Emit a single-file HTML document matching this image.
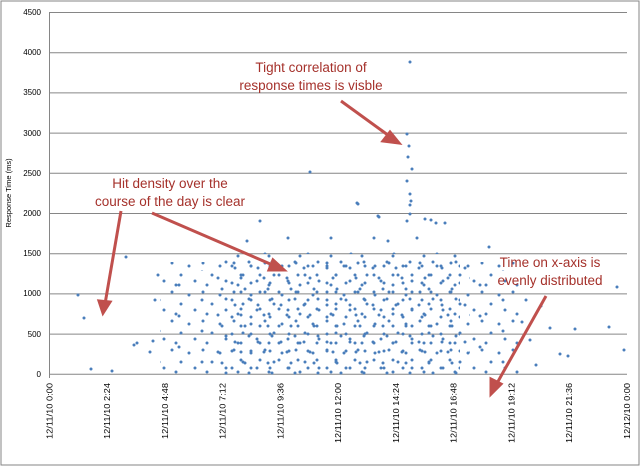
<!DOCTYPE html>
<html><head><meta charset="utf-8"><style>
html,body{margin:0;padding:0;background:#fff}
svg{display:block;font-family:"Liberation Sans",sans-serif}
</style></head><body>
<svg width="640" height="467" viewBox="0 0 640 467" xmlns="http://www.w3.org/2000/svg">
<defs>
<pattern id="p1" patternUnits="userSpaceOnUse" width="31" height="29">
<g fill="#4a7ebb"><circle cx="3" cy="5" r="1.5"/><circle cx="17" cy="2" r="1.5"/><circle cx="26" cy="14" r="1.5"/><circle cx="9" cy="20" r="1.5"/><circle cx="21" cy="24" r="1.5"/></g>
</pattern>
<pattern id="p2" patternUnits="userSpaceOnUse" width="23" height="37">
<g fill="#4a7ebb"><circle cx="5" cy="9" r="1.5"/><circle cx="15" cy="30" r="1.5"/><circle cx="19" cy="3" r="1.5"/><circle cx="11" cy="19" r="1.5"/></g>
</pattern>
<pattern id="p3" patternUnits="userSpaceOnUse" width="19" height="17">
<g fill="#4a7ebb"><circle cx="4" cy="11" r="1.5"/><circle cx="13" cy="3" r="1.5"/></g>
</pattern>
<pattern id="p4" patternUnits="userSpaceOnUse" width="43" height="31">
<g fill="#4a7ebb"><circle cx="7" cy="6" r="1.5"/><circle cx="30" cy="21" r="1.5"/></g>
</pattern>
</defs>
<rect x="1" y="1" width="638" height="464" fill="#fff" stroke="#868686" stroke-width="1"/>
<g stroke="#868686" stroke-width="1">
<line x1="49" y1="12.5" x2="627" y2="12.5"/><line x1="49" y1="52.7" x2="627" y2="52.7"/>
<line x1="49" y1="92.9" x2="627" y2="92.9"/><line x1="49" y1="133.1" x2="627" y2="133.1"/>
<line x1="49" y1="173.3" x2="627" y2="173.3"/><line x1="49" y1="213.5" x2="627" y2="213.5"/>
<line x1="49" y1="253.7" x2="627" y2="253.7"/><line x1="49" y1="293.9" x2="627" y2="293.9"/>
<line x1="49" y1="334.1" x2="627" y2="334.1"/><line x1="49" y1="374.3" x2="627" y2="374.3"/>
<line x1="49.5" y1="12" x2="49.5" y2="378"/>
</g>
<g font-size="8" fill="#000" text-anchor="end">
<text x="41" y="15">4500</text><text x="41" y="55">4000</text><text x="41" y="95">3500</text>
<text x="41" y="136">3000</text><text x="41" y="176">2500</text><text x="41" y="216">2000</text>
<text x="41" y="256">1500</text><text x="41" y="296">1000</text><text x="41" y="337">500</text>
<text x="41" y="377">0</text>
</g>
<text transform="translate(11,193) rotate(-90)" font-size="7.5" text-anchor="middle">Response Time (ms)</text>
<g font-size="8.5" text-anchor="end" lengthAdjust="spacingAndGlyphs">
<text transform="translate(52.5,383) rotate(-90)" textLength="56" lengthAdjust="spacingAndGlyphs">12/11/10 0:00</text>
<text transform="translate(110.2,383) rotate(-90)" textLength="56" lengthAdjust="spacingAndGlyphs">12/11/10 2:24</text>
<text transform="translate(168,383) rotate(-90)" textLength="56" lengthAdjust="spacingAndGlyphs">12/11/10 4:48</text>
<text transform="translate(225.7,383) rotate(-90)" textLength="56" lengthAdjust="spacingAndGlyphs">12/11/10 7:12</text>
<text transform="translate(283.5,383) rotate(-90)" textLength="56" lengthAdjust="spacingAndGlyphs">12/11/10 9:36</text>
<text transform="translate(341.2,383) rotate(-90)" textLength="60" lengthAdjust="spacingAndGlyphs">12/11/10 12:00</text>
<text transform="translate(399,383) rotate(-90)" textLength="60" lengthAdjust="spacingAndGlyphs">12/11/10 14:24</text>
<text transform="translate(456.7,383) rotate(-90)" textLength="60" lengthAdjust="spacingAndGlyphs">12/11/10 16:48</text>
<text transform="translate(514.5,383) rotate(-90)" textLength="60" lengthAdjust="spacingAndGlyphs">12/11/10 19:12</text>
<text transform="translate(572.2,383) rotate(-90)" textLength="60" lengthAdjust="spacingAndGlyphs">12/11/10 21:36</text>
<text transform="translate(630,383) rotate(-90)" textLength="56" lengthAdjust="spacingAndGlyphs">12/12/10 0:00</text>
</g>
<rect x="215" y="254" width="255" height="121" fill="url(#p1)"/>
<rect x="215" y="254" width="255" height="121" fill="url(#p2)"/>
<rect x="225" y="262" width="235" height="113" fill="url(#p3)"/>
<rect x="160" y="262" width="55" height="113" fill="url(#p1)"/>
<rect x="160" y="270" width="55" height="105" fill="url(#p4)"/>
<rect x="470" y="262" width="50" height="113" fill="url(#p1)"/>
<rect x="470" y="270" width="50" height="105" fill="url(#p4)"/>
<rect x="250" y="230" width="200" height="24" fill="url(#p4)"/>
<g fill="#4a7ebb">
<circle cx="78" cy="295" r="1.5"/><circle cx="84" cy="318" r="1.5"/><circle cx="91" cy="369" r="1.5"/>
<circle cx="112" cy="371" r="1.5"/><circle cx="126" cy="257" r="1.5"/><circle cx="134" cy="345" r="1.5"/>
<circle cx="137" cy="343" r="1.5"/><circle cx="150" cy="352" r="1.5"/><circle cx="153" cy="341" r="1.5"/>
<circle cx="155" cy="300" r="1.5"/><circle cx="158" cy="275" r="1.5"/>
<circle cx="541" cy="306" r="1.5"/><circle cx="550" cy="328" r="1.5"/><circle cx="560" cy="354" r="1.5"/>
<circle cx="568" cy="356" r="1.5"/><circle cx="575" cy="329" r="1.5"/><circle cx="609" cy="327" r="1.5"/>
<circle cx="617" cy="287" r="1.5"/><circle cx="624" cy="350" r="1.5"/><circle cx="530" cy="340" r="1.5"/>
<circle cx="536" cy="365" r="1.5"/><circle cx="526" cy="300" r="1.5"/><circle cx="522" cy="322" r="1.5"/>
<circle cx="489" cy="247" r="1.5"/><circle cx="310" cy="172" r="1.5"/><circle cx="357" cy="203" r="1.5"/>
<circle cx="378" cy="216" r="1.5"/><circle cx="388" cy="241" r="1.5"/><circle cx="431" cy="220" r="1.5"/>
<circle cx="445" cy="223" r="1.5"/><circle cx="260" cy="221" r="1.5"/><circle cx="247" cy="241" r="1.5"/>
<circle cx="410" cy="62" r="1.5"/><circle cx="407" cy="134" r="1.5"/><circle cx="409" cy="146" r="1.5"/>
<circle cx="408" cy="157" r="1.5"/><circle cx="412" cy="169" r="1.5"/><circle cx="407" cy="181" r="1.5"/>
<circle cx="410" cy="194" r="1.5"/><circle cx="411" cy="201" r="1.5"/><circle cx="410" cy="205" r="1.5"/>
<circle cx="410" cy="214" r="1.5"/><circle cx="407" cy="221" r="1.5"/><circle cx="358" cy="204" r="1.5"/>
<circle cx="425" cy="219" r="1.5"/><circle cx="436" cy="223" r="1.5"/><circle cx="379" cy="217" r="1.5"/>
</g>
<g fill="#a5312b" font-size="13.5" text-anchor="middle">
<text x="311" y="72">Tight correlation of</text>
<text x="311" y="90">response times is visble</text>
<text x="170" y="188">Hit density over the</text>
<text x="170" y="206">course of the day is clear</text>
<text x="550" y="267">Time on x-axis is</text>
<text x="550" y="285">evenly distributed</text>
</g>
<g stroke="#c0504d" stroke-width="3" fill="#c0504d">
<line x1="341" y1="101" x2="392" y2="138"/><polygon points="399,143 383,141 390,132"/>
<line x1="121" y1="211" x2="105" y2="304"/><polygon points="103,313 99,301 110,302"/>
<line x1="152" y1="213" x2="275" y2="266"/><polygon points="284,270 269,270 273,260"/>
<line x1="546" y1="296" x2="496" y2="385"/><polygon points="491,394 491,379 501,384"/>
</g>
</svg>
</body></html>
